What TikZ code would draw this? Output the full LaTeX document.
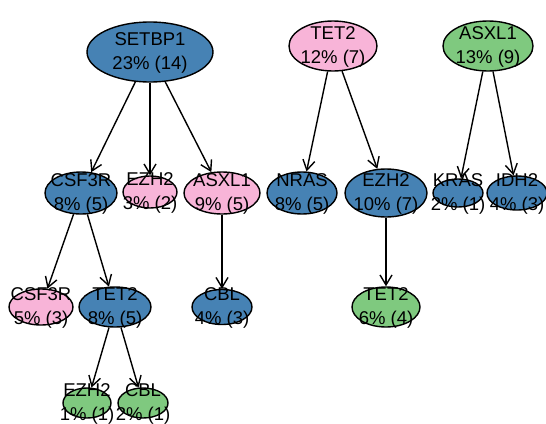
\documentclass[tikz,border=0pt]{standalone}
\usepackage{fontspec}
\setmainfont{Liberation Sans}
\usetikzlibrary{shapes.geometric}
\usetikzlibrary{arrows.meta}

\definecolor{blu}{RGB}{70,130,180}
\definecolor{pnk}{RGB}{248,180,216}
\definecolor{grn}{RGB}{127,201,127}

\tikzset{
 gene/.style={ellipse, draw=black, line width=1.4pt, inner sep=0pt},
 lbl/.style={font=\fontsize{18.5}{24}\selectfont, align=center, inner sep=0pt},
 edge/.style={line width=1.4pt, -{Straight Barb[length=10pt,width=12pt]}}
}

\begin{document}
\begin{tikzpicture} [x=1pt, y=-1pt]
\useasboundingbox (0,0) rectangle (546,423);
% level 1
\node[gene, fill=blu, minimum width=126, minimum height=60] (setbp1) at (150,52) {};
\node[gene, fill=pnk, minimum width=88, minimum height=50] (tetA) at (333,46) {};
\node[gene, fill=grn, minimum width=90, minimum height=50] (asxlA) at (488,46) {};
% level 2
\node[gene, fill=blu, minimum width=72, minimum height=42] (csfB) at (81,193) {};
\node[gene, fill=pnk, minimum width=54, minimum height=32] (ezhB) at (150,192) {};
\node[gene, fill=pnk, minimum width=76, minimum height=42] (asxlB) at (222,193) {};
\node[gene, fill=blu, minimum width=70, minimum height=42] (nrasB) at (302,193) {};
\node[gene, fill=blu, minimum width=82, minimum height=48] (ezhC) at (386,193) {};
\node[gene, fill=blu, minimum width=50, minimum height=28] (krasB) at (458,193) {};
\node[gene, fill=blu, minimum width=60, minimum height=34] (idhB) at (517,193) {};
% level 3
\node[gene, fill=pnk, minimum width=64, minimum height=36] (csfC) at (41,307) {};
\node[gene, fill=blu, minimum width=72, minimum height=40] (tetC) at (115,307) {};
\node[gene, fill=blu, minimum width=60, minimum height=35] (cblC) at (222,307) {};
\node[gene, fill=grn, minimum width=68, minimum height=40] (tetD) at (386,307) {};
% level 4
\node[gene, fill=grn, minimum width=48, minimum height=30] (ezhD) at (87,403) {};
\node[gene, fill=grn, minimum width=50, minimum height=30] (cblD) at (143,403) {};

\foreach \a/\b in {setbp1/csfB, setbp1/ezhB, setbp1/asxlB, tetA/nrasB, tetA/ezhC,
 asxlA/krasB, asxlA/idhB, csfB/csfC, csfB/tetC, asxlB/cblC, ezhC/tetD, tetC/ezhD, tetC/cblD}
 \draw[edge] (\a) -- (\b);

% labels
\node[lbl] (setbp1-t) at ([yshift=-1]setbp1) {SETBP1\\23\% (14)};
\node[lbl] (tetA-t) at ([yshift=-1]tetA) {TET2\\12\% (7)};
\node[lbl] (asxlA-t) at ([yshift=-1]asxlA) {ASXL1\\13\% (9)};
\node[lbl] (csfB-t) at ([yshift=-1]csfB) {CSF3R\\8\% (5)};
\node[lbl] (ezhB-t) at ([yshift=-1]ezhB) {EZH2\\3\% (2)};
\node[lbl] (asxlB-t) at ([yshift=-1]asxlB) {ASXL1\\9\% (5)};
\node[lbl] (nrasB-t) at ([yshift=-1]nrasB) {NRAS\\8\% (5)};
\node[lbl] (ezhC-t) at ([yshift=-1]ezhC) {EZH2\\10\% (7)};
\node[lbl] (krasB-t) at ([yshift=-1]krasB) {KRAS\\2\% (1)};
\node[lbl] (idhB-t) at ([yshift=-1]idhB) {IDH2\\4\% (3)};
\node[lbl] (csfC-t) at ([yshift=-1]csfC) {CSF3R\\5\% (3)};
\node[lbl] (tetC-t) at ([yshift=-1]tetC) {TET2\\8\% (5)};
\node[lbl] (cblC-t) at ([yshift=-1]cblC) {CBL\\4\% (3)};
\node[lbl] (tetD-t) at ([yshift=-1]tetD) {TET2\\6\% (4)};
\node[lbl] (ezhD-t) at ([yshift=-1]ezhD) {EZH2\\1\% (1)};
\node[lbl] (cblD-t) at ([yshift=-1]cblD) {CBL\\2\% (1)};
\end{tikzpicture}
\end{document}
